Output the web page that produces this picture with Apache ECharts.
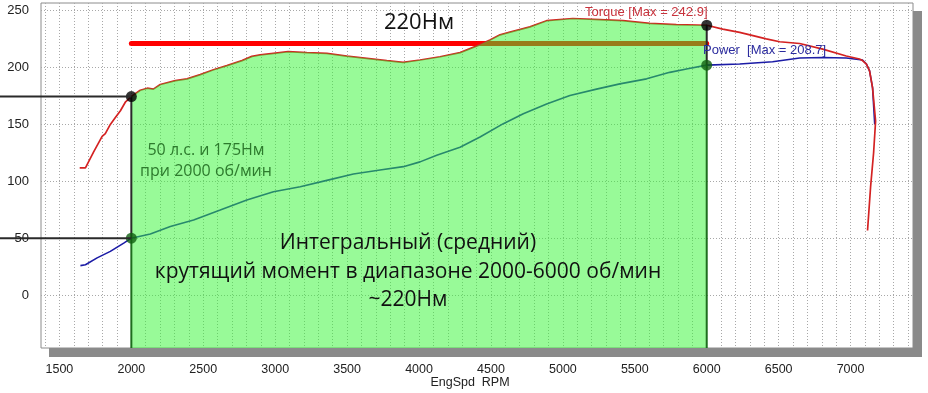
<!DOCTYPE html>
<html><head><meta charset="utf-8">
<script src="https://cdn.jsdelivr.net/npm/echarts@6/dist/echarts.min.js"></script>
<style>html,body{margin:0;padding:0;background:#fff}#c{width:928px;height:393px}</style>
</head><body><div id="c"></div>
<script>
// ---- data ----
const torqueRpm = [1641,1681,1738,1797,1819,1854,1889,1924,1958,2000,2062,2111,2153,2201,2306,2387,2479,2571,2664,2769,2838,2896,2987,3090,3220,3359,3498,3637,3776,3889,4007,4146,4285,4424,4493,4563,4632,4771,4887,5069,5257,5417,5604,5789,6000,6111,6229,6414,6507,6646,6806,6970,7062,7083,7110,7132,7153,7174,7160,7139,7118];
const torqueNm  = [112,112,126,139.5,142,150,156,162,169.5,174.5,180,181.8,181,185,188.5,190,193.7,198,201.6,206,209.7,211,212.3,213.8,213,212.3,210,208,206,204.5,206.5,209.4,213,220,224,228.6,231,235.6,241,242.9,242,241,238.6,237.5,237,233.6,230.7,225,222.5,221,216,210,207.4,206,203,197,182,153,125,95,57];
const powerRpm  = [1646,1681,1762,1854,1947,2000,2132,2271,2433,2618,2803,2988,3174,3359,3544,3729,3891,4007,4123,4285,4424,4586,4725,4887,5049,5234,5396,5582,5743,5859,6000,6229,6458,6646,6806,6970,7083,7110,7132,7153,7168];
const powerHp   = [26.2,27,33,38.7,46,50.3,54,60.5,66.3,75,83.8,91,95.4,101,106.5,110,113,117.2,123,130,139,150.7,159.4,168,175.4,181,185.6,190,195.7,198.7,202,203,205,208.3,208.7,208.3,206.5,203,197,182,150];
const rangeRpm = [2000, 6000];
const avgTorque = 221;
const torqueMax = 242.9, powerMax = 208.7;
const xTickLabels = [1500,2000,2500,3000,3500,4000,4500,5000,5500,6000,6500,7000];
const yTickLabels = [0,50,100,150,200,250];
const xMin = 1372, xMax = 7434, yMin = -46, yMax = 256.5;

const xGrid = []; for (let v = 1400; v <= 7400; v += 100) xGrid.push(v);
const pairs = (xs, ys) => xs.map((x, i) => [x, ys[i]]);
const at = (xs, ys, x) => ys[xs.indexOf(x)];
const t0 = at(torqueRpm, torqueNm, rangeRpm[0]), t1 = at(torqueRpm, torqueNm, rangeRpm[1]);
const p0 = at(powerRpm, powerHp, rangeRpm[0]), p1 = at(powerRpm, powerHp, rangeRpm[1]);
const i0 = torqueRpm.indexOf(rangeRpm[0]), i1 = torqueRpm.indexOf(rangeRpm[1]);
const fillData = pairs(torqueRpm, torqueNm).slice(i0, i1 + 1);

const GREEN = '#1e6e1e', DARK = '#2a2a2a';
const vline = (name, data, color) => ({type:'line', name, data, z:6, showSymbol:false, silent:true,
  lineStyle:{color, width:2}});

const chart = echarts.init(document.getElementById('c'), null, {renderer:'canvas'});
chart.setOption({
  animation:false,
  backgroundColor:'#fff',
  grid:{left:41, right:15, top:3, bottom:45, show:true, backgroundColor:'#fff', borderColor:'#8c8c8c', borderWidth:1, containLabel:false, outerBoundsMode:'none'},
  xAxis:{type:'value', min:xMin, max:xMax,
    axisLine:{show:false}, axisTick:{show:false, customValues:xGrid},
    axisLabel:{customValues:xTickLabels, formatter:v => String(v), margin:15, color:'#222', fontSize:12.5, fontFamily:'Liberation Sans, Arial'},
    splitLine:{show:true, lineStyle:{color:'#a8a8a8', type:[1,2], width:1}}},
  yAxis:{type:'value', min:yMin, max:yMax,
    axisLine:{show:false}, axisTick:{show:false, customValues:yTickLabels},
    axisLabel:{customValues:yTickLabels, formatter:v => String(v), margin:12, color:'#222', fontSize:13, fontFamily:'Liberation Sans, Arial'},
    splitLine:{show:true, lineStyle:{color:'#a8a8a8', type:[1,2], width:1}}},
  series:[
    {type:'line', name:'avg', data:[[rangeRpm[0], avgTorque],[rangeRpm[1], avgTorque]], z:2, showSymbol:false,
      lineStyle:{color:'#ff0000', width:5, cap:'round'}},
    {type:'line', name:'Power', data:pairs(powerRpm, powerHp), z:3, showSymbol:false,
      lineStyle:{color:'#1c1ca6', width:1.6}},
    {type:'line', name:'Torque', data:pairs(torqueRpm, torqueNm), z:3, showSymbol:false,
      lineStyle:{color:'#d42222', width:1.7}},
    {type:'line', name:'fill', data:fillData, z:4, showSymbol:false, silent:true,
      lineStyle:{width:0}, areaStyle:{color:'rgba(50,245,50,0.5)', origin:'start', opacity:1}},
    vline('v0g', [[rangeRpm[0], yMin],[rangeRpm[0], p0]], GREEN),
    vline('v0k', [[rangeRpm[0], p0],[rangeRpm[0], t0]], DARK),
    vline('v1g', [[rangeRpm[1], yMin],[rangeRpm[1], p1]], GREEN),
    vline('v1k', [[rangeRpm[1], p1],[rangeRpm[1], t1]], DARK),
    {type:'scatter', data:[[rangeRpm[0], t0],[rangeRpm[1], t1]], z:8, symbolSize:11, itemStyle:{color:'#000'}},
    {type:'scatter', data:[[rangeRpm[0], p0],[rangeRpm[1], p1]], z:8, symbolSize:11, itemStyle:{color:'#106010'}}
  ]
});

const pt = v => chart.convertToPixel({gridIndex:0}, v);
const a = pt([rangeRpm[0], t0]), b = pt([rangeRpm[0], p0]);
const FONT = '"Open Sans", "Noto Sans", sans-serif';
chart.setOption({graphic:[
  {type:'rect', z:-100, silent:true, shape:{x:49, y:11, width:873, height:346}, style:{fill:'#8a8a8a'}},
  {type:'line', z:100, shape:{x1:0, y1:a[1], x2:a[0], y2:a[1]}, style:{stroke:DARK, lineWidth:2}},
  {type:'line', z:100, shape:{x1:0, y1:b[1], x2:b[0], y2:b[1]}, style:{stroke:DARK, lineWidth:2}},
  {type:'text', z:100, x:585, y:12, style:{text:'Torque [Max = ' + torqueMax + ']', fill:'#c8323c', font:'13px "Liberation Sans", Arial', textVerticalAlign:'middle'}},
  {type:'text', z:100, x:703, y:50, style:{text:'Power  [Max = ' + powerMax + ']', fill:'#2b2b9e', font:'13px "Liberation Sans", Arial', textVerticalAlign:'middle'}},
  {type:'text', z:100, x:419, y:23, style:{text:'220Нм', fill:'#111', font:'22px ' + FONT, textAlign:'center', textVerticalAlign:'middle'}},
  {type:'text', z:100, x:206, y:161, style:{text:'50 л.с. и 175Нм\nпри 2000 об/мин', fill:'#2d7a2d', font:'16px ' + FONT, lineHeight:21, textAlign:'center', textVerticalAlign:'middle'}},
  {type:'text', z:100, x:408, y:272, style:{text:'Интегральный (средний)\nкрутящий момент в диапазоне 2000-6000 об/мин\n~220Нм', fill:'#111', font:'21px ' + FONT, lineHeight:28.5, textAlign:'center', textVerticalAlign:'middle'}},
  {type:'text', z:100, x:470, y:383, style:{text:'EngSpd  RPM', fill:'#222', font:'12.5px "Liberation Sans", Arial', textAlign:'center', textVerticalAlign:'middle'}}
]});
</script></body></html>
